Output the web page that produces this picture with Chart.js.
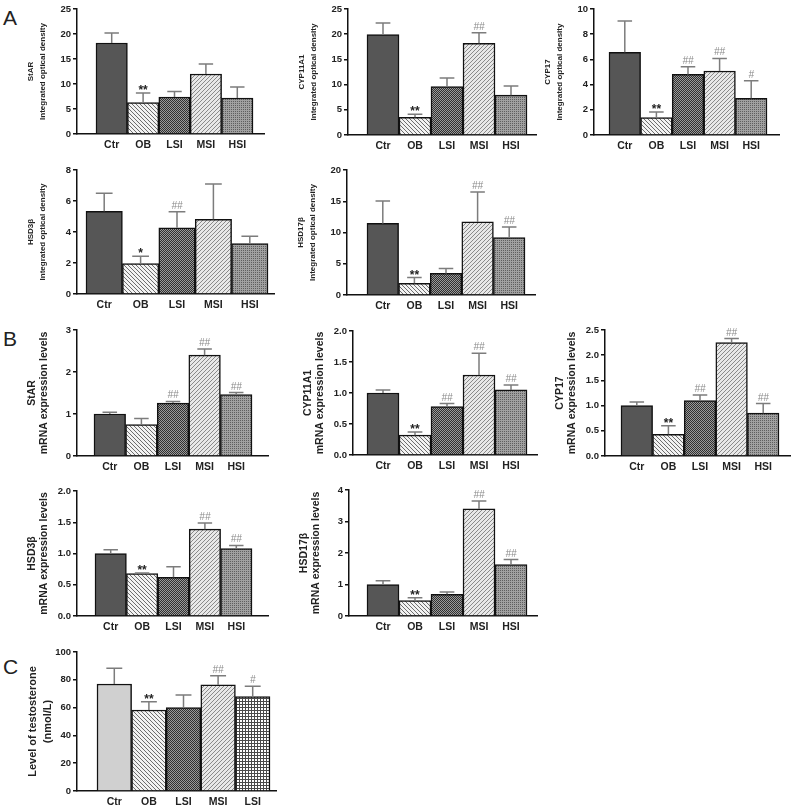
<!DOCTYPE html>
<html>
<head>
<meta charset="utf-8">
<script src="https://cdn.jsdelivr.net/npm/chart.js@4"></script>
<style>
body { margin: 0; background: #fff; width: 800px; height: 809px; position: relative; overflow: hidden; font-family: Arial, "Liberation Sans", sans-serif; }
canvas { position: absolute; }
.tag { position: absolute; font-size: 21px; color: #222; line-height: 1; }
</style>
</head>
<body>
<div class="tag" style="left:3px;top:7px">A</div>
<div class="tag" style="left:3px;top:328px">B</div>
<div class="tag" style="left:3px;top:656px">C</div>
<script>
const groups = ['Ctr', 'OB', 'LSI', 'MSI', 'HSI'];
const groupsC = ['Ctr', 'OB', 'LSI', 'MSI', 'LSI'];

// A: protein, integrated optical density (mean, sd, significance)
const starIod = [18.2, 6.3, 7.4, 12.0, 7.2];
const starIodSd = [2.0, 1.9, 1.1, 2.0, 2.2];
const starIodSig = ['', '**', '', '', ''];

const cyp11Iod = [19.9, 3.5, 9.6, 18.2, 7.9];
const cyp11IodSd = [2.3, 0.6, 1.7, 2.1, 1.8];
const cyp11IodSig = ['', '**', '', '##', ''];

const cyp17Iod = [6.56, 1.38, 4.81, 5.08, 2.91];
const cyp17IodSd = [2.49, 0.45, 0.61, 1.0, 1.4];
const cyp17IodSig = ['', '**', '##', '##', '#'];

const hsd3Iod = [5.34, 1.97, 4.27, 4.82, 3.26];
const hsd3IodSd = [1.16, 0.46, 1.03, 2.28, 0.47];
const hsd3IodSig = ['', '*', '##', '', ''];

const hsd17Iod = [11.45, 1.87, 3.46, 11.7, 9.2];
const hsd17IodSd = [3.6, 0.93, 0.8, 4.8, 1.7];
const hsd17IodSig = ['', '**', '', '##', '##'];

// B: mRNA expression levels
const starMrna = [1.0, 0.75, 1.26, 2.4, 1.46];
const starMrnaSd = [0.04, 0.14, 0.04, 0.15, 0.05];
const starMrnaSig = ['', '', '##', '##', '##'];

const cyp11Mrna = [1.0, 0.32, 0.78, 1.29, 1.05];
const cyp11MrnaSd = [0.05, 0.05, 0.05, 0.35, 0.08];
const cyp11MrnaSig = ['', '**', '##', '##', '##'];

const cyp17Mrna = [1.0, 0.43, 1.1, 2.25, 0.85];
const cyp17MrnaSd = [0.07, 0.17, 0.11, 0.08, 0.19];
const cyp17MrnaSig = ['', '**', '##', '##', '##'];

const hsd3Mrna = [1.0, 0.68, 0.62, 1.39, 1.08];
const hsd3MrnaSd = [0.06, 0.01, 0.17, 0.1, 0.05];
const hsd3MrnaSig = ['', '**', '', '##', '##'];

const hsd17Mrna = [1.0, 0.49, 0.69, 3.4, 1.63];
const hsd17MrnaSd = [0.12, 0.09, 0.07, 0.25, 0.16];
const hsd17MrnaSig = ['', '**', '', '##', '##'];

// C: testosterone, nmol/L
const testo = [77, 58.3, 60.1, 76.3, 68];
const testoSd = [11.3, 5.9, 8.9, 6.7, 7.3];
const testoSig = ['', '**', '', '##', '#'];

const FONT = 'Arial, "Liberation Sans", sans-serif';

function tile(size, draw) {
  const c = document.createElement('canvas');
  c.width = c.height = size;
  const g = c.getContext('2d');
  draw(g, size);
  return g.createPattern(c, 'repeat');
}

const fillOB = tile(4, (g, s) => {
  g.fillStyle = '#f2f2f2'; g.fillRect(0, 0, s, s);
  g.fillStyle = '#6e6e6e';
  for (let i = 0; i < s; i++) g.fillRect(i, i, 1, 1);
});
const fillLSI = tile(2, (g) => {
  g.fillStyle = '#9a9a9a'; g.fillRect(0, 0, 2, 2);
  g.fillStyle = '#303030'; g.fillRect(0, 0, 1, 1); g.fillRect(1, 1, 1, 1);
});
const fillMSI = tile(4, (g, s) => {
  g.fillStyle = '#e8e8e8'; g.fillRect(0, 0, s, s);
  g.fillStyle = '#8a8a8a';
  for (let i = 0; i < s; i++) g.fillRect(s - 1 - i, i, 1, 1);
});
const fillHSI = tile(2, (g) => {
  g.fillStyle = '#a0a0a0'; g.fillRect(0, 0, 2, 2);
  g.fillStyle = '#5e5e5e'; g.fillRect(0, 0, 1, 1);
});
const fillGrid = tile(3, (g, s) => {
  g.fillStyle = '#ffffff'; g.fillRect(0, 0, s, s);
  g.fillStyle = '#4a4a4a'; g.fillRect(0, 0, s, 1); g.fillRect(0, 0, 1, s);
});
const fillsAB = ['#565656', fillOB, fillLSI, fillMSI, fillHSI];
const fillsC = ['#d0d0d0', fillOB, fillLSI, fillMSI, fillGrid];

// error bars (upper only) + significance marks
const whiskers = {
  id: 'whiskers',
  afterDatasetsDraw(chart) {
    const { ctx } = chart;
    const y = chart.scales.y;
    const ds = chart.data.datasets[0];
    const meta = chart.getDatasetMeta(0);
    ctx.save();
    meta.data.forEach((bar, i) => {
      const top = y.getPixelForValue(ds.data[i].y + ds.sd[i]);
      const half = bar.width * 0.23;
      ctx.strokeStyle = '#7c7c7c';
      ctx.lineWidth = 1.5;
      ctx.beginPath();
      ctx.moveTo(bar.x, bar.y);
      ctx.lineTo(bar.x, top);
      ctx.moveTo(bar.x - half, top);
      ctx.lineTo(bar.x + half, top);
      ctx.stroke();
      const s = ds.sig[i];
      if (!s) return;
      ctx.textAlign = 'center';
      ctx.textBaseline = 'alphabetic';
      if (s[0] === '*') {
        ctx.fillStyle = '#222';
        ctx.font = 'bold 12px ' + FONT;
        ctx.fillText(s, bar.x, top + 1);
      } else {
        ctx.fillStyle = '#8a8a8a';
        ctx.font = 'italic 10px ' + FONT;
        ctx.fillText(s, bar.x, top - 3);
      }
    });
    ctx.restore();
  }
};

function panel(box, labels, means, sd, sig, fills, yMax, step, decimals, title, titleFont) {
  const YW = titleFont.yw, PT = 8, PR = 8, XH = 22;
  const w = YW + (box.axisR - box.axisX) + PR;
  const h = PT + (box.bottom - box.top) + XH;
  const cv = document.createElement('canvas');
  cv.width = w; cv.height = h;
  cv.style.left = (box.axisX - YW) + 'px';
  cv.style.top = (box.top - PT) + 'px';
  cv.style.width = w + 'px';
  cv.style.height = h + 'px';
  document.body.appendChild(cv);
  const barW = (box.barR - box.barL) / labels.length;

  new Chart(cv, {
    type: 'bar',
    data: {
      datasets: [{
        data: means.map((v, i) => ({ x: i + 1, y: v })),
        sd: sd,
        sig: sig,
        backgroundColor: fills,
        borderColor: '#111',
        borderWidth: 1.5,
        borderSkipped: 'start',
        categoryPercentage: 1,
        barPercentage: 1
      }]
    },
    options: {
      responsive: false,
      animation: false,
      devicePixelRatio: 1,
      layout: { padding: { top: PT, right: PR, left: 0, bottom: 0 } },
      plugins: { legend: { display: false }, tooltip: { enabled: false } },
      scales: {
        x: {
          type: 'linear',
          offset: false,
          min: 0.5 - (box.barL - box.axisX) / barW,
          max: labels.length + 0.5 + (box.axisR - box.barR) / barW,
          afterBuildTicks: s => { s.ticks = labels.map((_, i) => ({ value: i + 1 })); },
          afterFit: s => { s.height = XH; },
          grid: { display: false, drawTicks: false, offset: false },
          border: { display: true, color: '#111', width: 1.5 },
          ticks: {
            callback: v => labels[v - 1] ?? '',
            autoSkip: false, maxRotation: 0, padding: 5, color: '#222',
            font: { family: FONT, size: 10.5, weight: 'bold' }
          }
        },
        y: {
          min: 0,
          max: yMax,
          afterFit: s => { s.width = YW; },
          grid: { drawOnChartArea: false, tickLength: 4, color: '#111', lineWidth: 1.5 },
          border: { display: true, color: '#111', width: 1.5 },
          ticks: {
            stepSize: step,
            callback: v => v.toFixed(decimals),
            padding: 2, color: '#222',
            font: { family: FONT, size: 9.5, weight: 'bold' }
          },
          title: {
            display: true,
            text: title,
            color: '#222',
            padding: { top: 0, bottom: 2 },
            font: { family: FONT, size: titleFont.size, weight: 'bold', lineHeight: titleFont.lh }
          }
        }
      }
    },
    plugins: [whiskers]
  });
}

const iod = 'Integrated optical density';
const mrna = 'mRNA expression levels';
const tA = { size: 8, lh: 1.5, yw: 52 };
const tB = { size: 10.5, lh: 1.15, yw: 51 };
const tC = { size: 11, lh: 1.35, yw: 51 };

panel({ axisX: 77, top: 9, bottom: 134, barL: 96, barR: 253, axisR: 264 },
  groups, starIod, starIodSd, starIodSig, fillsAB, 25, 5, 0, ['StAR', iod], tA);
panel({ axisX: 348, top: 9, bottom: 135, barL: 367, barR: 527, axisR: 536 },
  groups, cyp11Iod, cyp11IodSd, cyp11IodSig, fillsAB, 25, 5, 0, ['CYP11A1', iod], tA);
panel({ axisX: 594, top: 9, bottom: 135, barL: 609, barR: 767, axisR: 779 },
  groups, cyp17Iod, cyp17IodSd, cyp17IodSig, fillsAB, 10, 2, 0, ['CYP17', iod], tA);
panel({ axisX: 77, top: 170, bottom: 294, barL: 86, barR: 268, axisR: 274 },
  groups, hsd3Iod, hsd3IodSd, hsd3IodSig, fillsAB, 8, 2, 0, ['HSD3β', iod], tA);
panel({ axisX: 347, top: 170, bottom: 295, barL: 367, barR: 525, axisR: 535 },
  groups, hsd17Iod, hsd17IodSd, hsd17IodSig, fillsAB, 20, 5, 0, ['HSD17β', iod], tA);

panel({ axisX: 77, top: 330, bottom: 456, barL: 94, barR: 252, axisR: 268 },
  groups, starMrna, starMrnaSd, starMrnaSig, fillsAB, 3, 1, 0, ['StAR', mrna], tB);
panel({ axisX: 353, top: 331, bottom: 455, barL: 367, barR: 527, axisR: 537 },
  groups, cyp11Mrna, cyp11MrnaSd, cyp11MrnaSig, fillsAB, 2, 0.5, 1, ['CYP11A1', mrna], tB);
panel({ axisX: 605, top: 330, bottom: 456, barL: 621, barR: 779, axisR: 790 },
  groups, cyp17Mrna, cyp17MrnaSd, cyp17MrnaSig, fillsAB, 2.5, 0.5, 1, ['CYP17', mrna], tB);
panel({ axisX: 77, top: 491, bottom: 616, barL: 95, barR: 252, axisR: 268 },
  groups, hsd3Mrna, hsd3MrnaSd, hsd3MrnaSig, fillsAB, 2, 0.5, 1, ['HSD3β', mrna], tB);
panel({ axisX: 349, top: 490, bottom: 616, barL: 367, barR: 527, axisR: 537 },
  groups, hsd17Mrna, hsd17MrnaSd, hsd17MrnaSig, fillsAB, 4, 1, 0, ['HSD17β', mrna], tB);

panel({ axisX: 77, top: 652, bottom: 791, barL: 97, barR: 270, axisR: 276 },
  groupsC, testo, testoSd, testoSig, fillsC, 100, 20, 0, ['Level of testosterone', '(nmol/L)'], tC);
</script>
</body>
</html>
